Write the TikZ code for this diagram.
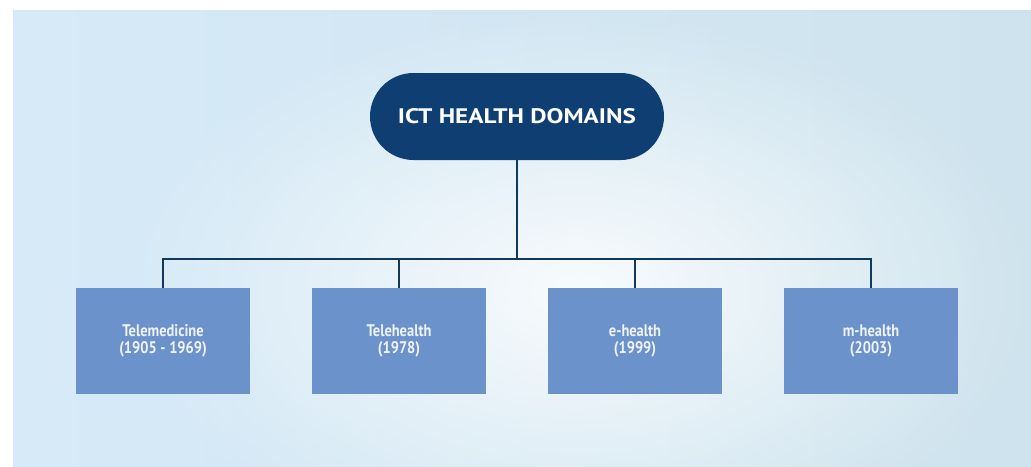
\documentclass[tikz,border=0pt]{standalone}
\usepackage{fontspec}
\setmainfont{PT Sans}
\newfontfamily\boxfont[FakeStretch=0.86]{PT Sans}
\newfontfamily\titlefont[FakeStretch=1.2]{PT Sans}
\usetikzlibrary{shapes.misc,fadings}
\definecolor{bgleft}{RGB}{214,234,248}
\definecolor{bgmid}{RGB}{240,245,250}
\definecolor{bgright}{RGB}{206,227,237}
\definecolor{navy}{RGB}{14,62,114}
\definecolor{linkcol}{RGB}{16,58,92}
\definecolor{boxblue}{RGB}{108,146,204}
\definecolor{boxtext}{RGB}{240,244,250}
\tikzfading[name=softglow, inner color=transparent!0, outer color=transparent!100]
\tikzset{
  pill/.style={rounded rectangle, fill=navy, text=white, minimum width=294pt,
    minimum height=87pt, inner sep=0pt, font=\titlefont\fontsize{21}{24}\selectfont\bfseries},
  domainbox/.style={rectangle, fill=boxblue, text=boxtext, minimum width=174pt,
    minimum height=106pt, inner sep=0pt, align=center,
    font=\boxfont\fontsize{16.8}{16.5}\selectfont\bfseries},
  link/.style={draw=linkcol, line width=2pt}
}
\begin{document}
\begin{tikzpicture}[x=1pt,y=-1pt]
\useasboundingbox (0,0) rectangle (1031,466);
\fill[white] (0,0) rectangle (1031,466);
\shade[left color=bgleft, middle color=bgmid, right color=bgright] (13,10) rectangle (1031,466);
\begin{scope}
\clip (13,10) rectangle (1031,466);
\fill[white, path fading=softglow, opacity=0.85] (580,290) ellipse (460pt and 280pt);
\end{scope}
\node[pill] (top) at (517,116.5) {ICT HEALTH DOMAINS};
\node[domainbox] (b1) at (163,341) {Telemedicine\\(1905 - 1969)};
\node[domainbox] (b2) at (399,341) {Telehealth\\(1978)};
\node[domainbox] (b3) at (635,341) {e-health\\(1999)};
\node[domainbox] (b4) at (871,341) {m-health\\(2003)};
\coordinate (bar) at (517,259);
\draw[link] (top.south) -- (bar);
\draw[link] (b1.north) -- (b1.north |- bar) -- (b4.north |- bar) -- (b4.north);
\draw[link] (b2.north) -- (b2.north |- bar);
\draw[link] (b3.north) -- (b3.north |- bar);
\end{tikzpicture}
\end{document}
